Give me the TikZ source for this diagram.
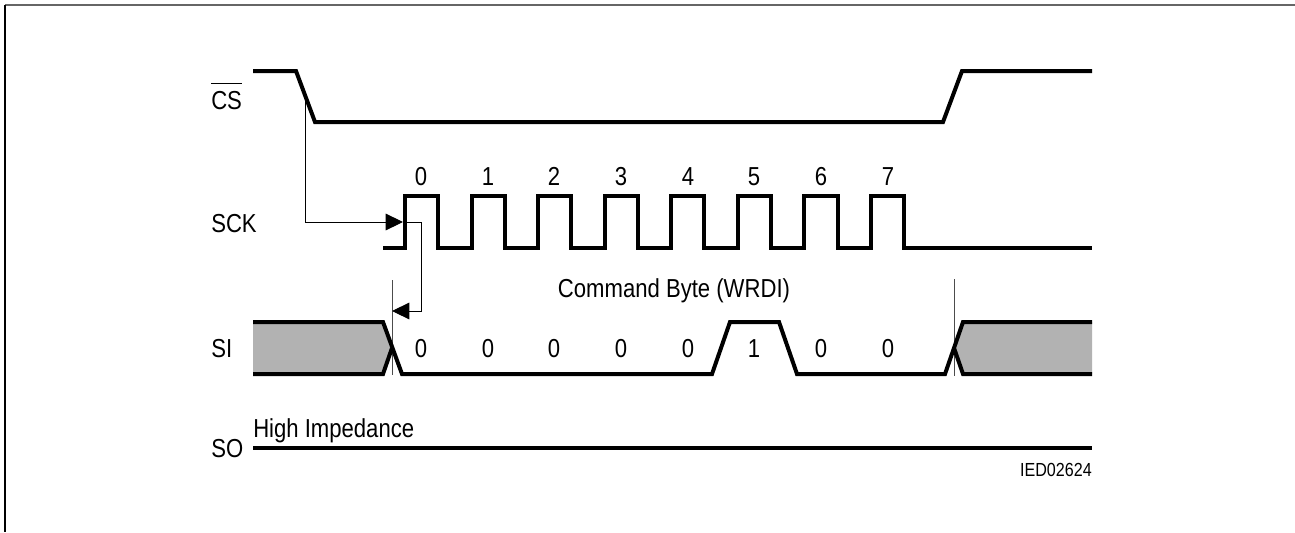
\documentclass[tikz,border=0pt]{standalone}
\usepackage{fontspec}
\setmainfont[FakeStretch=0.85]{Liberation Sans}
\usetikzlibrary{arrows.meta}
\tikzstyle{every node} = [inner sep=0pt, anchor=base, font=\fontsize{19.5}{22}\selectfont]
\tikzstyle{signal} = [line width=3pt, line join=miter]
\tikzstyle{timing} = [line width=0.7pt, black]
\tikzstyle{marker} = [line width=0.7pt, black!70]
\tikzstyle{sigconfig} = [anchor=base west]
\begin{document}
\begin{tikzpicture}[x=0.75pt, y=-0.75pt]
        \useasboundingbox (0,0) rectangle (1295,532);
        \draw[line width=1.4pt, black!60] (5,5) -- (1295,5);
        \draw[line width=1pt, black] (5,5) -- (5,532);

        \fill[black!30] (253,322) -- (383,322) -- (392,348) -- (383,374) -- (253,374) -- cycle;
        \fill[black!30] (1092,322) -- (963,322) -- (954,348) -- (963,374) -- (1092,374) -- cycle;

        \coordinate (csedge) at (305,97);
        \coordinate (csbend) at (305,222);
        \coordinate (sckarrow) at (403,222);
        \coordinate (sckedge) at (405,222);
        \coordinate (sckbend) at (421,222);
        \coordinate (sibend) at (421,311);
        \coordinate (sival) at (392,311);
        \coordinate (sitop) at (392,280);
        \coordinate (sibot) at (392,375);
        \coordinate (sendtop) at (954,279);
        \coordinate (sendbot) at (954,376);

        \draw[marker] (sitop) -- (sibot);
        \draw[marker] (sendtop) -- (sendbot);
        \draw[timing, -{Triangle[length=13pt, width=12.5pt]}] (csedge) -- (csbend) -- (sckarrow);
        \draw[timing, -{Triangle[length=13pt, width=12.5pt]}] (sckedge) -- (sckbend) -- (sibend) -- (sival);

        \draw[signal] (253,71) -- (296,71) -- (315,122) -- (943,122) -- (962,71) -- (1092,71);
        \draw[signal] (383,248) -- (405,248) -- (405,196) -- (438,196) -- (438,248)
            -- (472,248) -- (472,196) -- (505,196) -- (505,248)
            -- (538,248) -- (538,196) -- (571,196) -- (571,248)
            -- (605,248) -- (605,196) -- (638,196) -- (638,248)
            -- (671,248) -- (671,196) -- (704,196) -- (704,248)
            -- (738,248) -- (738,196) -- (771,196) -- (771,248)
            -- (804,248) -- (804,196) -- (838,196) -- (838,248)
            -- (871,248) -- (871,196) -- (904,196) -- (904,248) -- (1092,248);
        \draw[signal] (253,322) -- (383,322) -- (402,374) -- (712,374) -- (730,322) -- (779,322)
            -- (797,374) -- (945,374) -- (963,322) -- (1092,322);
        \draw[signal] (253,374) -- (383,374) -- (392,348);
        \draw[signal] (954,348) -- (963,374) -- (1092,374);
        \draw[signal] (253,448) -- (1092,448);

        \node[sigconfig] (cs) at (211,109) {$\overline{\mbox{\rule{0pt}{18pt}CS}}$};
        \node[sigconfig] (sck) at (211,232) {SCK};
        \node[sigconfig] (si) at (211,357) {SI};
        \node[sigconfig] (so) at (211,457) {SO};
        \node[sigconfig] (hiz) at (253,437) {High Impedance};

        \node (clk0) at (421,185) {0};
        \node (clk1) at (488,185) {1};
        \node (clk2) at (554,185) {2};
        \node (clk3) at (621,185) {3};
        \node (clk4) at (688,185) {4};
        \node (clk5) at (754,185) {5};
        \node (clk6) at (821,185) {6};
        \node (clk7) at (888,185) {7};

        \node (cmd) at (674,297) {Command Byte (WRDI)};

        \node (bit0) at (421,357) {0};
        \node (bit1) at (488,357) {0};
        \node (bit2) at (554,357) {0};
        \node (bit3) at (621,357) {0};
        \node (bit4) at (688,357) {0};
        \node (bit5) at (754,357) {1};
        \node (bit6) at (821,357) {0};
        \node (bit7) at (888,357) {0};

        \node[anchor=base east, font=\fontsize{14.2}{16}\selectfont] (ied) at (1092,476) {IED02624};
    \end{tikzpicture}
\end{document}
